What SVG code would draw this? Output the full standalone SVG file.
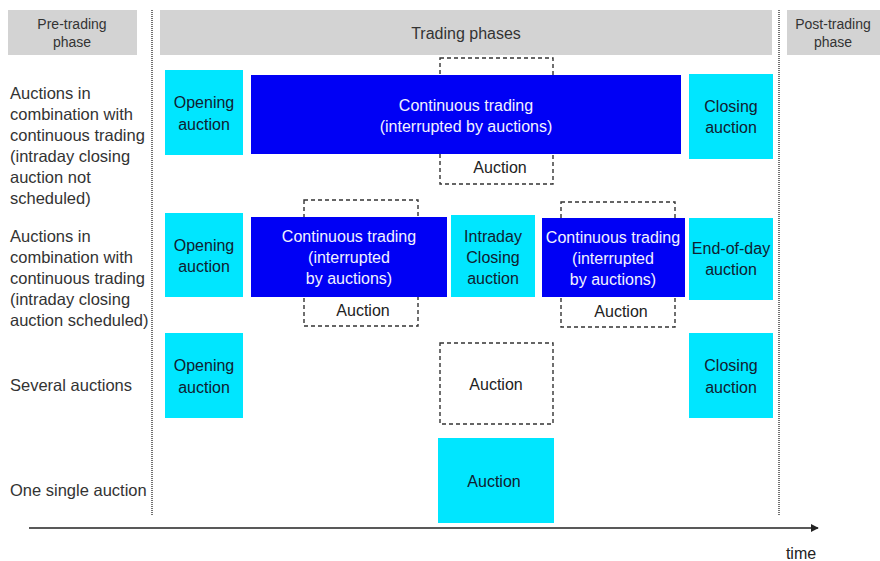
<svg xmlns="http://www.w3.org/2000/svg" width="880" height="561" viewBox="0 0 880 561">
  <defs>
    <marker id="arrow" viewBox="0 0 10 10" refX="9" refY="5" markerWidth="8" markerHeight="8" markerUnits="userSpaceOnUse" orient="auto">
      <path d="M0,0 L10,5 L0,10 z" fill="#222"/>
    </marker>
  </defs>
  <style>
    text { font-family: "Liberation Sans", Arial, sans-serif; font-size: 16px; }
    .hdr { fill: #d3d3d3; }
    .hdrt { fill: #333; font-size: 14px; text-anchor: middle; }
    .lbl { fill: #333; font-size: 16.5px; }
    .cyan { fill: #00e6ff; }
    .blue { fill: #0000f5; }
    .dash { fill: #fff; stroke: #333; stroke-width: 1.4; stroke-dasharray: 4 3; }
    .ct { fill: #102030; text-anchor: middle; }
    .wt { fill: #f2f2ff; text-anchor: middle; }
    .dt { fill: #222; text-anchor: middle; }
    .sep { stroke: #444; stroke-width: 1.5; stroke-dasharray: 1 1; fill: none; }
  </style>

  <!-- phase headers -->
  <g id="hdr-pre">
    <rect class="hdr" x="8" y="10" width="129" height="45"/>
    <text class="hdrt" x="72" y="29">Pre-trading</text>
    <text class="hdrt" x="72" y="47">phase</text>
  </g>
  <g id="hdr-trading">
    <rect class="hdr" x="160" y="10" width="612" height="45"/>
    <text class="hdrt" x="466" y="39" style="font-size:16px">Trading phases</text>
  </g>
  <g id="hdr-post">
    <rect class="hdr" x="787" y="10" width="93" height="45"/>
    <text class="hdrt" x="833" y="29">Post-trading</text>
    <text class="hdrt" x="833" y="47">phase</text>
  </g>

  <!-- phase separators -->
  <line class="sep" x1="152" y1="10" x2="152" y2="516"/>
  <line class="sep" x1="779" y1="10" x2="779" y2="516"/>

  <!-- row labels -->
  <g id="label-row1">
    <text class="lbl" x="10" y="99">Auctions in</text>
    <text class="lbl" x="10" y="120">combination with</text>
    <text class="lbl" x="10" y="141">continuous trading</text>
    <text class="lbl" x="10" y="162">(intraday closing</text>
    <text class="lbl" x="10" y="183">auction not</text>
    <text class="lbl" x="10" y="204">scheduled)</text>
  </g>
  <g id="label-row2">
    <text class="lbl" x="10" y="242">Auctions in</text>
    <text class="lbl" x="10" y="263">combination with</text>
    <text class="lbl" x="10" y="284">continuous trading</text>
    <text class="lbl" x="10" y="305">(intraday closing</text>
    <text class="lbl" x="10" y="326">auction scheduled)</text>
  </g>
  <g id="label-row3">
    <text class="lbl" x="10" y="391">Several auctions</text>
  </g>
  <g id="label-row4">
    <text class="lbl" x="10" y="496">One single auction</text>
  </g>

  <!-- row 1 -->
  <g id="r1-open">
    <rect class="cyan" x="165" y="70" width="78" height="85"/>
    <text class="ct" x="204" y="108">Opening</text>
    <text class="ct" x="204" y="130">auction</text>
  </g>
  <g id="r1-auction">
    <rect class="dash" x="440" y="58" width="113" height="126"/>
    <text class="dt" x="500" y="173">Auction</text>
  </g>
  <g id="r1-continuous">
    <rect class="blue" x="251" y="75" width="430" height="79"/>
    <text class="wt" x="466" y="111">Continuous trading</text>
    <text class="wt" x="466" y="132">(interrupted by auctions)</text>
  </g>
  <g id="r1-close">
    <rect class="cyan" x="689" y="74" width="84" height="85"/>
    <text class="ct" x="731" y="112">Closing</text>
    <text class="ct" x="731" y="133">auction</text>
  </g>

  <!-- row 2 -->
  <g id="r2-open">
    <rect class="cyan" x="165" y="213" width="78" height="84"/>
    <text class="ct" x="204" y="251">Opening</text>
    <text class="ct" x="204" y="272">auction</text>
  </g>
  <g id="r2-auction1">
    <rect class="dash" x="304" y="200" width="114" height="126"/>
    <text class="dt" x="363" y="316">Auction</text>
  </g>
  <g id="r2-continuous1">
    <rect class="blue" x="251" y="217" width="196" height="80"/>
    <text class="wt" x="349" y="242">Continuous trading</text>
    <text class="wt" x="349" y="263">(interrupted</text>
    <text class="wt" x="349" y="284">by auctions)</text>
  </g>
  <g id="r2-intraday">
    <rect class="cyan" x="451" y="215" width="84" height="82"/>
    <text class="ct" x="493" y="242">Intraday</text>
    <text class="ct" x="493" y="263">Closing</text>
    <text class="ct" x="493" y="284">auction</text>
  </g>
  <g id="r2-auction2">
    <rect class="dash" x="561" y="202" width="114" height="125"/>
    <text class="dt" x="621" y="317">Auction</text>
  </g>
  <g id="r2-continuous2">
    <rect class="blue" x="542" y="218" width="143" height="79"/>
    <text class="wt" x="613" y="243">Continuous trading</text>
    <text class="wt" x="613" y="264">(interrupted</text>
    <text class="wt" x="613" y="285">by auctions)</text>
  </g>
  <g id="r2-endofday">
    <rect class="cyan" x="689" y="218" width="84" height="82"/>
    <text class="ct" x="731" y="254">End-of-day</text>
    <text class="ct" x="731" y="275">auction</text>
  </g>

  <!-- row 3 -->
  <g id="r3-open">
    <rect class="cyan" x="165" y="333" width="78" height="85"/>
    <text class="ct" x="204" y="371">Opening</text>
    <text class="ct" x="204" y="393">auction</text>
  </g>
  <g id="r3-auction">
    <rect class="dash" x="440" y="343" width="113" height="81"/>
    <text class="dt" x="496" y="390">Auction</text>
  </g>
  <g id="r3-close">
    <rect class="cyan" x="689" y="333" width="84" height="85"/>
    <text class="ct" x="731" y="371">Closing</text>
    <text class="ct" x="731" y="393">auction</text>
  </g>

  <!-- row 4 -->
  <g id="r4-auction">
    <rect class="cyan" x="438" y="438" width="116" height="85"/>
    <text class="ct" x="494" y="487">Auction</text>
  </g>

  <!-- time axis -->
  <g id="connectors">
    <line x1="29" y1="528" x2="818" y2="528" stroke="#222" stroke-width="1.5" marker-end="url(#arrow)"/>
  </g>
  <g id="time-label">
    <text x="801" y="559" text-anchor="middle" fill="#222">time</text>
  </g>
</svg>
